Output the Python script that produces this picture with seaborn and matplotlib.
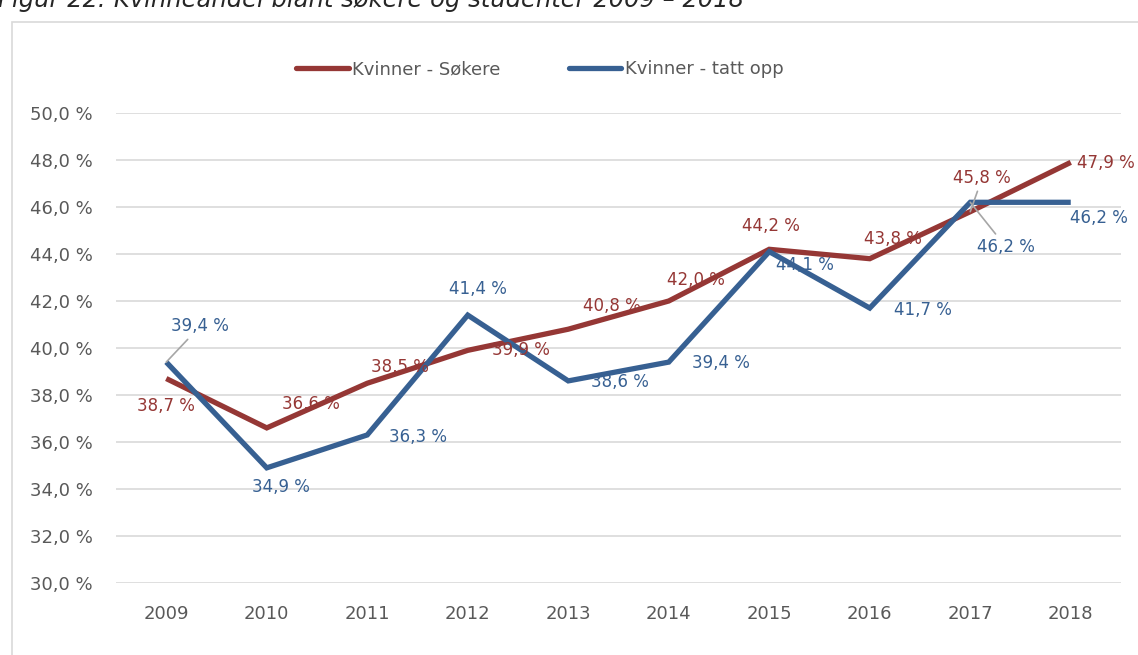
import matplotlib
matplotlib.use("Agg")
import matplotlib.pyplot as plt
import seaborn as sns
import pandas as pd
from matplotlib.patches import Rectangle

years = [2009, 2010, 2011, 2012, 2013, 2014, 2015, 2016, 2017, 2018]
sokere = [38.7, 36.6, 38.5, 39.9, 40.8, 42.0, 44.2, 43.8, 45.8, 47.9]
tatt_opp = [39.4, 34.9, 36.3, 41.4, 38.6, 39.4, 44.1, 41.7, 46.2, 46.2]
series_names = ["Kvinner - Søkere", "Kvinner - tatt opp"]
title = "Figur 22: Kvinneandel blant søkere og studenter 2009 – 2018"

RED = "#953735"
BLUE = "#376092"

df = pd.DataFrame({
    "År": years * 2,
    "Andel": sokere + tatt_opp,
    "Serie": [series_names[0]] * len(years) + [series_names[1]] * len(years),
})

sns.set_theme(style="white")
plt.rcParams["font.family"] = ["DejaVu Sans"]

fig = plt.figure(figsize=(11.38, 6.55), dpi=100)
ax = fig.add_axes([116 / 1138, 1 - 583 / 655, (1121 - 116) / 1138, (583 - 113) / 655])

sns.lineplot(data=df, x="År", y="Andel", hue="Serie", palette=[RED, BLUE],
             linewidth=3.8, ax=ax, legend=True, zorder=3)
for line in ax.lines:
    line.set_solid_joinstyle("miter")
    line.set_solid_capstyle("butt")

ax.set_xlim(2008.5, 2018.5)
ax.set_ylim(30, 50)
ax.set_yticks(range(30, 51, 2))
ax.set_yticklabels([f"{v},0 %" for v in range(30, 51, 2)])
ax.set_xticks(years)
ax.set_xticklabels([str(y) for y in years])
ax.set_xlabel("")
ax.set_ylabel("")
ax.grid(axis="y", color="#d9d9d9", linewidth=1.2)
ax.grid(axis="x", visible=False)
for s in ax.spines.values():
    s.set_visible(False)
ax.tick_params(axis="y", length=0, pad=16.5, labelsize=13, labelcolor="#595959")
ax.tick_params(axis="x", length=0, pad=16, labelsize=13, labelcolor="#595959")

# Legend
leg = ax.legend(loc="center", bbox_to_anchor=(540 / 1138, 1 - 69 / 655),
                bbox_transform=fig.transFigure, ncol=2, frameon=False,
                fontsize=13, handlelength=2.9, handletextpad=0.2,
                columnspacing=3.8)
for t in leg.get_texts():
    t.set_color("#595959")
for h in leg.get_lines():
    h.set_solid_capstyle("round")

# Data labels (offsets in pixels from the point)
red_off = [(0, -27), (44, 24), (33, 16), (53, 0), (44, 23), (27, 21), (2, 23),
           (23, 20), (12, 34), (35, -1)]
blue_off = [(34, 36), (14, -19), (51, -2), (10, 26), (52, -1), (52, -1),
            (36, -13), (53, -2), (36, -45), (28, -16)]
red_leader = [False] * 8 + [True, False]
blue_leader = [True] + [False] * 7 + [True, False]

def fmt(v):
    return f"{v:.1f}".replace(".", ",") + " %"

for vals, offs, leaders, col in [(sokere, red_off, red_leader, RED),
                                 (tatt_opp, blue_off, blue_leader, BLUE)]:
    for yr, v, off, ld in zip(years, vals, offs, leaders):
        kw = {}
        if ld:
            kw["arrowprops"] = dict(arrowstyle="-", color="#a6a6a6", lw=1.2,
                                    shrinkA=1, shrinkB=0)
        ax.annotate(fmt(v), xy=(yr, v), xytext=off, textcoords="offset pixels",
                    ha="center", va="center", fontsize=12, color=col,
                    zorder=4, **kw)

# Frame
fig.patches.append(Rectangle((12 / 1138, -0.05), 1.1, 1 - 22 / 655 + 0.05,
                             transform=fig.transFigure, fill=False,
                             edgecolor="#d9d9d9", linewidth=1.2))

# Title (cut at top, as in the source figure)
fig.text(-0.002, 1 - 7 / 655, title, fontsize=17.5, style="italic",
         color="#262626", ha="left", va="baseline")

fig.savefig("out.png", dpi=100)
